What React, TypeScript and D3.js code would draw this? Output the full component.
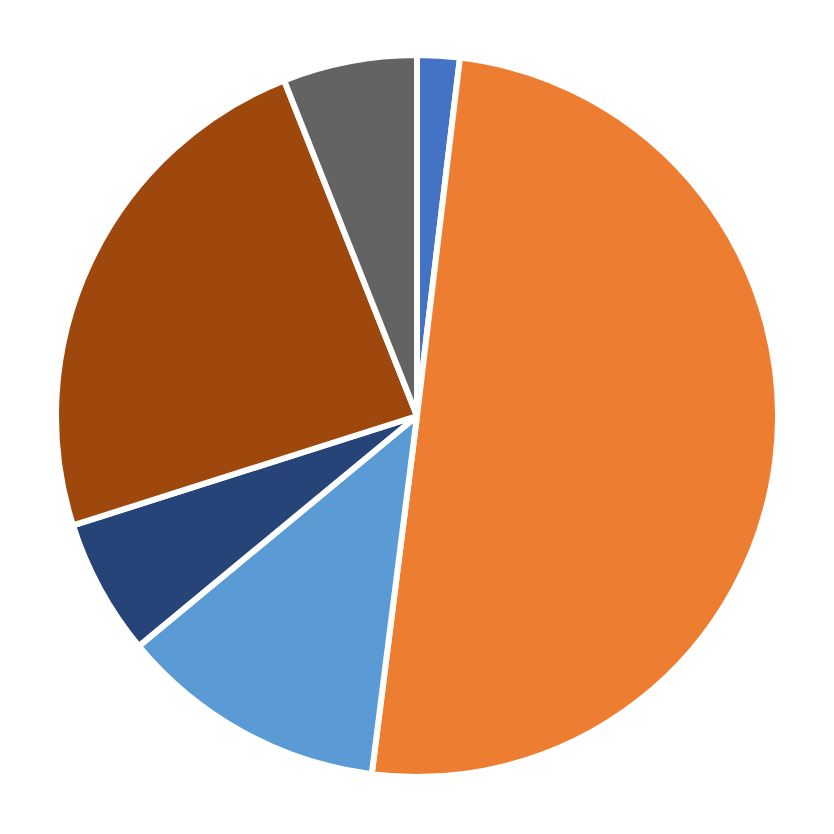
import * as d3 from "d3";

const labels = ["A", "B", "C", "D", "E", "F"];
const values = [1.9, 50.1, 12.0, 6.1, 23.9, 6.0];
const colors = ["#4472C4", "#ED7D31", "#5B9BD5", "#264478", "#9E480E", "#636363"];

export default function App() {
  const W = 834;
  const H = 834;
  const cx = 417;
  const cy = 416;
  const r = 361;

  const pie = d3
    .pie<number>()
    .sort(null)
    .value((d) => d);
  const arcs = pie(values);
  const arc = d3.arc<d3.PieArcDatum<number>>().innerRadius(0).outerRadius(r);

  return (
    <svg
      width={W}
      height={H}
      style={{ position: "absolute", left: 0, top: 0, background: "#fff" }}
    >
      <g transform={`translate(${cx},${cy})`}>
        {arcs.map((a, i) => (
          <path
            key={labels[i]}
            d={arc(a) ?? ""}
            fill={colors[i]}
            stroke="#fff"
            strokeWidth={6}
            strokeLinejoin="round"
          />
        ))}
      </g>
    </svg>
  );
}
